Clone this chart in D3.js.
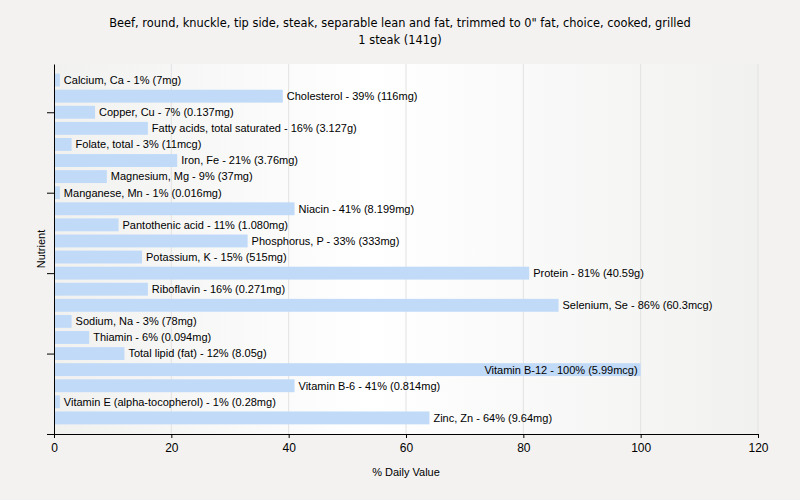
<!DOCTYPE html>
<html>
<head>
<meta charset="utf-8">
<script src="https://cdn.jsdelivr.net/npm/d3@7"></script>
<style>
  body { margin: 0; background: #f3f2f1; }
  text { font-family: "Liberation Sans", Arial, sans-serif; }
</style>
</head>
<body>
<div id="chart"></div>
<script>
var svgWidth = 800;
var svgHeight = 500;

var margin = { top: 64, right: 42, bottom: 66, left: 54 };
var width = svgWidth - margin.left - margin.right;
var height = svgHeight - margin.top - margin.bottom;

// data
var nutrients = ['Calcium, Ca', 'Cholesterol', 'Copper, Cu', 'Fatty acids, total saturated',
  'Folate, total', 'Iron, Fe', 'Magnesium, Mg', 'Manganese, Mn', 'Niacin',
  'Pantothenic acid', 'Phosphorus, P', 'Potassium, K', 'Protein', 'Riboflavin',
  'Selenium, Se', 'Sodium, Na', 'Thiamin', 'Total lipid (fat)', 'Vitamin B-12',
  'Vitamin B-6', 'Vitamin E (alpha-tocopherol)', 'Zinc, Zn'];
var percents = [1, 39, 7, 16, 3, 21, 9, 1, 41, 11, 33, 15, 81, 16, 86, 3, 6, 12, 100, 41, 1, 64];
var amounts = ['7mg', '116mg', '0.137mg', '3.127g', '11mcg', '3.76mg', '37mg', '0.016mg',
  '8.199mg', '1.080mg', '333mg', '515mg', '40.59g', '0.271mg', '60.3mcg', '78mg',
  '0.094mg', '8.05g', '5.99mcg', '0.814mg', '0.28mg', '9.64mg'];
var xTicks = [0, 20, 40, 60, 80, 100, 120];
var yTicks = [0, 5, 10, 15, 20];

var rows = nutrients.map(function(n, i) {
  return { name: n, pct: percents[i], amt: amounts[i], pos: nutrients.length - i };
});

var svg = d3.select('#chart').append('svg')
  .attr('width', svgWidth)
  .attr('height', svgHeight);

var defs = svg.append('defs');
var grad = defs.append('linearGradient').attr('id', 'bg');
grad.append('stop').attr('offset', '0%').attr('stop-color', '#f1f1f0');
grad.append('stop').attr('offset', '45%').attr('stop-color', '#ffffff');
grad.append('stop').attr('offset', '100%').attr('stop-color', '#f1f1f0');

var chartGroup = svg.append('g')
  .attr('transform', `translate(${margin.left}, ${margin.top})`);

var xScale = d3.scaleLinear().domain([0, 120]).range([0, width]);
var yScale = d3.scaleLinear().domain([0, 23]).range([height, 0]);
var barH = (yScale(0) - yScale(1)) * 0.8;

chartGroup.append('rect')
  .attr('width', width)
  .attr('height', height)
  .attr('fill', 'url(#bg)');

// vertical grid lines
chartGroup.selectAll('.grid')
  .data(xTicks.slice(1))
  .enter()
  .append('line')
  .attr('x1', d => xScale(d))
  .attr('x2', d => xScale(d))
  .attr('y1', 0)
  .attr('y2', height)
  .attr('stroke', '#e2e2e2');

chartGroup.selectAll('.bar')
  .data(rows)
  .enter()
  .append('rect')
  .attr('x', xScale(0))
  .attr('y', d => yScale(d.pos) - barH / 2)
  .attr('width', d => xScale(d.pct) - xScale(0))
  .attr('height', barH)
  .attr('fill', '#c0daf8');

chartGroup.selectAll('.lbl')
  .data(rows)
  .enter()
  .append('text')
  .attr('x', d => d.pct >= 100 ? xScale(d.pct) - 3 : xScale(d.pct) + 4)
  .attr('y', d => yScale(d.pos))
  .attr('dy', '0.35em')
  .attr('text-anchor', d => d.pct >= 100 ? 'end' : 'start')
  .attr('font-size', '11px')
  .attr('fill', '#000')
  .text(d => `${d.name} - ${d.pct}% (${d.amt})`);

var xAxis = chartGroup.append('g')
  .attr('transform', `translate(0, ${height})`)
  .call(d3.axisBottom(xScale).tickValues(xTicks).tickSize(4).tickSizeOuter(0));

var yAxis = chartGroup.append('g')
  .call(d3.axisLeft(yScale).tickValues(yTicks).tickSize(7).tickSizeOuter(0).tickFormat(''));

xAxis.selectAll('text').attr('font-size', '12px').attr('fill', '#000').attr('dy', '0.9em');
svg.selectAll('.domain, .tick line').attr('stroke', '#000');

// titles
svg.append('text')
  .attr('x', 400).attr('y', 27)
  .attr('text-anchor', 'middle')
  .attr('font-size', '11.4px')
  .style('font-family', '"DejaVu Sans", Verdana, sans-serif')
  .text('Beef, round, knuckle, tip side, steak, separable lean and fat, trimmed to 0" fat, choice, cooked, grilled');

svg.append('text')
  .attr('x', 400).attr('y', 44)
  .attr('text-anchor', 'middle')
  .attr('font-size', '11.4px')
  .style('font-family', '"DejaVu Sans", Verdana, sans-serif')
  .text('1 steak (141g)');

svg.append('text')
  .attr('x', margin.left + width / 2).attr('y', 476)
  .attr('text-anchor', 'middle')
  .attr('font-size', '11px')
  .text('% Daily Value');

svg.append('text')
  .attr('transform', `translate(45, ${margin.top + height / 2}) rotate(-90)`)
  .attr('text-anchor', 'middle')
  .attr('font-size', '11px')
  .text('Nutrient');
</script>
</body>
</html>
